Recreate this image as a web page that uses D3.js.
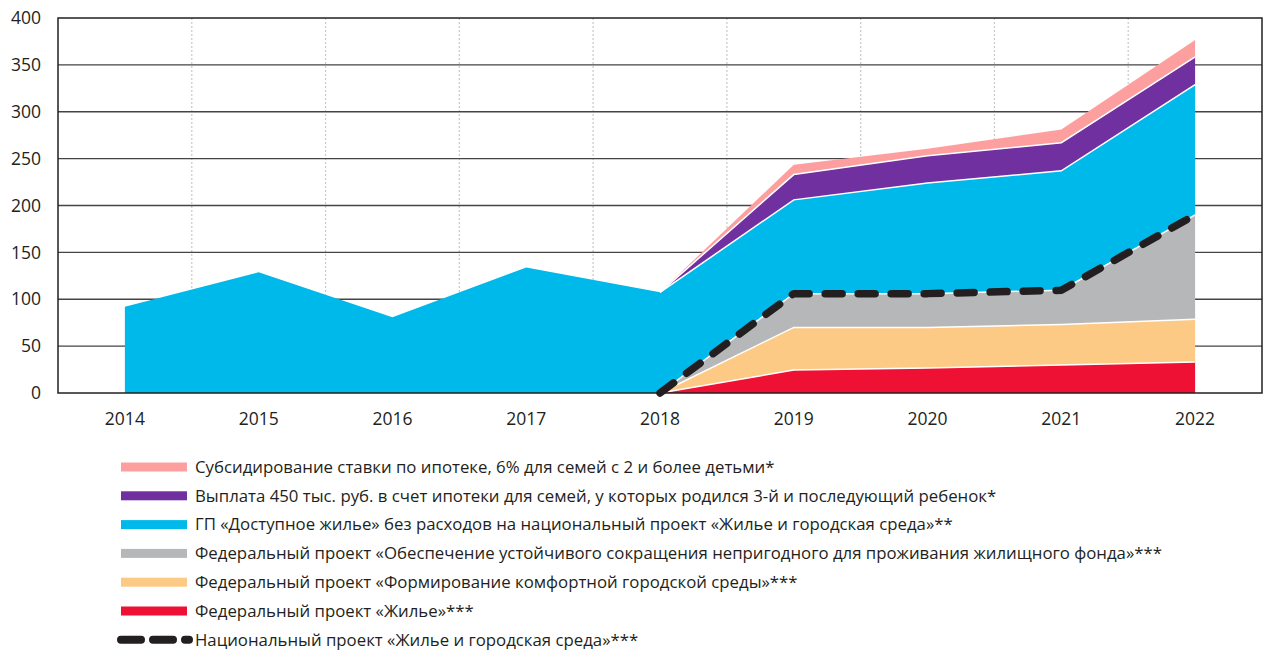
<!DOCTYPE html>
<html><head><meta charset="utf-8">
<script src="https://cdn.jsdelivr.net/npm/d3@7"></script>
<style>body{margin:0;background:#fff}svg{display:block}</style>
</head><body><svg id="c" width="1264" height="652"></svg>
<script>
const years = [2014, 2015, 2016, 2017, 2018, 2019, 2020, 2021, 2022];
const yTicks = [0, 50, 100, 150, 200, 250, 300, 350, 400];
// series values (null = not shown)
const zhilye      = [null, null, null, null, 0, 24.5, 26.6, 29.8, 33];
const komfort     = [null, null, null, null, 0, 45.5, 43.4, 43.2, 45.7];
const obespechenie= [null, null, null, null, 0, 36, 36, 36.6, 111.3];
const gpDostupnoe = [92, 128.7, 80.9, 134, 107.4, 100, 118, 127.4, 139];
const vyplata     = [null, null, null, null, 0, 27, 29, 30, 29.5];
const subsid      = [null, null, null, null, 0, 10.6, 7.6, 14, 18];
const seriesNames = [
  "Федеральный проект «Жилье»***",
  "Федеральный проект «Формирование комфортной городской среды»***",
  "Федеральный проект «Обеспечение устойчивого сокращения непригодного для проживания жилищного фонда»***",
  "ГП «Доступное жилье» без расходов на национальный проект «Жилье и городская среда»**",
  "Выплата 450 тыс. руб. в счет ипотеки для семей, у которых родился 3-й и последующий ребенок*",
  "Субсидирование ставки по ипотеке, 6% для семей с 2 и более детьми*"
];
const seriesColors = ["#ee1133", "#fdca86", "#b6b7b9", "#00b9eb", "#7030a0", "#fe9f9f"];
const nationalName = "Национальный проект «Жилье и городская среда»***";
const seriesData = [zhilye, komfort, obespechenie, gpDostupnoe, vyplata, subsid];

const svg = d3.select("#c");
const L = 58, R = 1262, T = 18, B = 393;
const x = d3.scaleBand().domain(years).range([L, R]);
const cx = d => x(d) + x.bandwidth() / 2;
const y = d3.scaleLinear().domain([0, 400]).range([B, T]);

// table for stack
const table = years.map((yr, i) => {
  const o = {year: yr};
  seriesData.forEach((s, k) => o[k] = s[i] == null ? 0 : s[i]);
  return o;
});
const stacked = d3.stack().keys(seriesData.map((_, k) => k))(table);

// grid
const g = svg.append("g");
g.selectAll(".vg").data(years.slice(1)).join("line")
  .attr("x1", d => x(d)).attr("x2", d => x(d)).attr("y1", T).attr("y2", B)
  .attr("stroke", "#c8c8c8").attr("stroke-width", 1.2).attr("stroke-dasharray", "2,2");
g.selectAll(".hg").data(yTicks.filter(v => v > 0 && v < 400)).join("line")
  .attr("x1", L).attr("x2", R).attr("y1", d => y(d)).attr("y2", d => y(d))
  .attr("stroke", "#444").attr("stroke-width", 1.3);

// areas
stacked.forEach((layer, k) => {
  const src = seriesData[k];
  const area = d3.area()
    .defined((d, i) => src[i] != null)
    .x((d, i) => cx(years[i]))
    .y0(d => y(d[0])).y1(d => y(d[1]));
  svg.append("path").datum(layer).attr("d", area)
    .attr("fill", seriesColors[k]);
});
// white separators
stacked.forEach((layer, k) => {
  if (k === seriesData.length - 1) return;
  const src = seriesData[k];
  const line = d3.line()
    .defined((d, i) => src[i] != null && i >= 4)
    .x((d, i) => cx(years[i])).y(d => y(d[1]));
  svg.append("path").datum(layer).attr("d", line)
    .attr("fill", "none").attr("stroke", "#fff").attr("stroke-width", 1.5);
});

// national project line
const national = years.map((yr, i) => zhilye[i] == null ? null : zhilye[i] + komfort[i] + obespechenie[i]);
const nline = d3.line().defined(d => d != null).x((d, i) => cx(years[i])).y(d => y(d));
svg.append("path").datum(national).attr("d", nline)
  .attr("fill", "none").attr("stroke", "#231f20").attr("stroke-width", 7.5)
  .attr("stroke-linecap", "round").attr("stroke-linejoin", "round")
  .attr("stroke-dasharray", "17,16");

// frame
svg.append("rect").attr("x", L).attr("y", T).attr("width", R - L).attr("height", B - T)
  .attr("fill", "none").attr("stroke", "#231f20").attr("stroke-width", 1.5);

// axes labels
const font = "'Open Sans', sans-serif";
svg.selectAll(".yt").data(yTicks).join("text")
  .attr("x", 41).attr("y", d => y(d)).attr("dy", "0.35em")
  .attr("text-anchor", "end").attr("font-family", font).attr("font-size", 17.5)
  .attr("fill", "#231f20").text(d => d);
svg.selectAll(".xt").data(years).join("text")
  .attr("x", d => cx(d)).attr("y", 419).attr("dy", "0.35em")
  .attr("text-anchor", "middle").attr("font-family", font).attr("font-size", 17.5)
  .attr("fill", "#231f20").text(d => d);

// legend
const legOrder = [5, 4, 3, 2, 1, 0];
const lf = "'Open Sans', sans-serif";
const ly0 = 467, ldy = 28.8;
legOrder.forEach((k, j) => {
  const yy = ly0 + j * ldy;
  svg.append("rect").attr("x", 121).attr("y", yy - 4.5).attr("width", 66).attr("height", 9)
    .attr("fill", seriesColors[k]);
  svg.append("text").attr("x", 195).attr("y", yy).attr("dy", "0.35em")
    .attr("font-family", lf).attr("font-size", 16.8).attr("fill", "#231f20").text(seriesNames[k]);
});
const yyN = ly0 + 6 * ldy;
svg.append("line").attr("x1", 121).attr("x2", 189).attr("y1", yyN).attr("y2", yyN)
  .attr("stroke", "#231f20").attr("stroke-width", 8).attr("stroke-linecap", "round")
  .attr("stroke-dasharray", "20,12");
svg.append("text").attr("x", 195).attr("y", yyN).attr("dy", "0.35em")
  .attr("font-family", lf).attr("font-size", 16.8).attr("fill", "#231f20").text(nationalName);
</script></body></html>
